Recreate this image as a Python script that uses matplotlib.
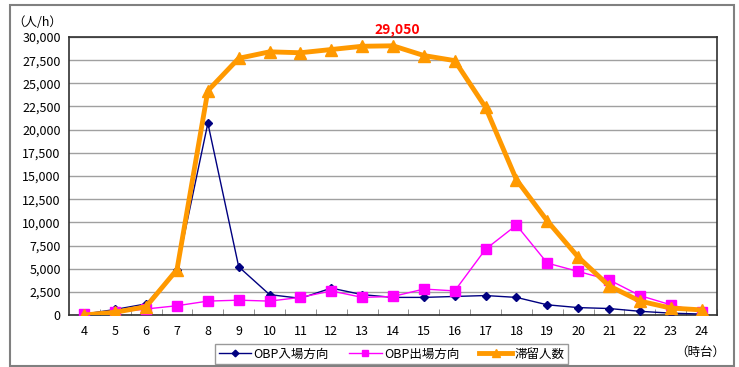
import matplotlib
matplotlib.use('Agg')
import matplotlib.pyplot as plt
from matplotlib.patches import Rectangle
from matplotlib.ticker import FuncFormatter, FixedLocator

plt.rcParams['font.family'] = ['Noto Sans CJK JP', 'DejaVu Sans']

hours = ['4', '5', '6', '7', '8', '9', '10', '11', '12', '13', '14', '15',
         '16', '17', '18', '19', '20', '21', '22', '23', '24']
inbound = [100, 600, 1200, 4900, 20700, 5200, 2200, 1800, 2900, 2200, 1900,
           1900, 2000, 2100, 1900, 1100, 800, 700, 400, 200, 100]
outbound = [100, 300, 650, 1000, 1500, 1600, 1500, 1900, 2600, 1900, 2000,
            2800, 2600, 7100, 9700, 5600, 4700, 3800, 2100, 1100, 300]
staying = [0, 300, 900, 4900, 24200, 27700, 28400, 28300, 28650, 29000, 29050,
           28000, 27450, 22400, 14600, 10150, 6250, 3150, 1500, 750, 550]
peak_label = '29,050'

fig = plt.figure(figsize=(7.39, 3.67), dpi=100)

# outer frame
fig.patches.append(Rectangle((10 / 739, 1 / 367), 724 / 739, 361 / 367,
                             transform=fig.transFigure, fill=False,
                             edgecolor='#808080', linewidth=1.5))

ax = fig.add_axes([69 / 739, 52 / 367, 648 / 739, 278 / 367])
x = list(range(len(hours)))

ax.plot(x, inbound, color='#000080', marker='D', markersize=4.5,
        linewidth=1.0, label='OBP入場方向', zorder=3)
ax.plot(x, outbound, color='#FF00FF', marker='s', markersize=6.5,
        linewidth=1.0, label='OBP出場方向', zorder=3)
ax.plot(x, staying, color='#FF9900', marker='^', markersize=8.5,
        linewidth=3.5, label='滞留人数', zorder=4)

ax.set_xlim(-0.5, len(hours) - 0.5)
ax.set_ylim(0, 30000)
ax.set_xticks(x)
ax.set_xticklabels(hours)
ax.xaxis.set_minor_locator(FixedLocator([i + 0.5 for i in x]))
ax.tick_params(axis='x', which='major', length=0, labelsize=9, pad=7)
ax.tick_params(axis='x', which='minor', direction='in', length=4,
               color='#808080')
ax.set_yticks(range(0, 30001, 2500))
ax.yaxis.set_major_formatter(FuncFormatter(lambda v, p: f'{int(v):,}'))
ax.tick_params(axis='y', length=0, labelsize=9, pad=6)
ax.grid(axis='y', color='#A0A0A0', linewidth=1.0)
ax.set_axisbelow(True)
for s in ax.spines.values():
    s.set_color('#303030')
    s.set_linewidth(1.2)

peak_i = staying.index(max(staying))
ax.annotate(peak_label, (peak_i, staying[peak_i]), xytext=(3, 11.5),
            textcoords='offset points', ha='center', va='center',
            color='#FF0000', fontsize=10, fontweight='bold',
            annotation_clip=False)

fig.text(12 / 739, 1 - 22 / 367, '（人/h）', fontsize=9, ha='left',
         va='center')
fig.text(700 / 739, 1 - 352 / 367, '（時台）', fontsize=9, ha='center',
         va='center')

leg = ax.legend(loc='center', bbox_to_anchor=(391.5 / 739, 1 - 354 / 367),
                bbox_transform=fig.transFigure, ncol=3, fontsize=9,
                frameon=True, fancybox=False, edgecolor='#808080',
                handlelength=2.6, handletextpad=0.2, columnspacing=1.6,
                borderpad=0.3, markerscale=0.75)
leg.get_frame().set_linewidth(1.0)

fig.savefig('out.png', dpi=100)
